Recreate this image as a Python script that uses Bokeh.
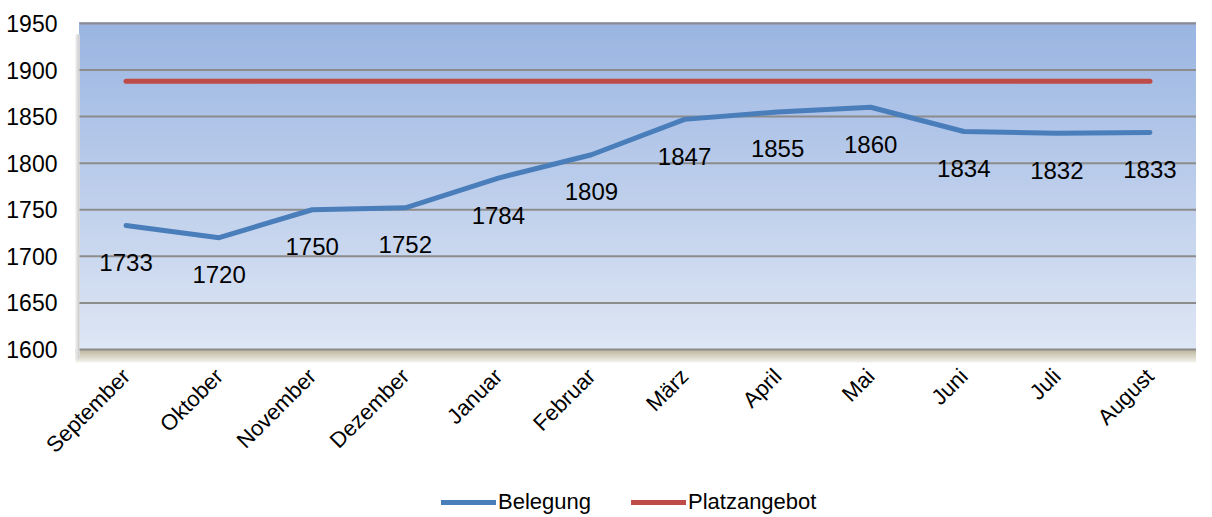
import math
from bokeh.plotting import figure
from bokeh.models import (Range1d, ColumnDataSource, LabelSet, Legend,
                          LegendItem, BoxAnnotation, FixedTicker)
from bokeh.core.properties import value
from bokeh.embed import file_html
from bokeh.resources import INLINE

months = ["September", "Oktober", "November", "Dezember", "Januar", "Februar",
          "März", "April", "Mai", "Juni", "Juli", "August"]
belegung = [1733, 1720, 1750, 1752, 1784, 1809, 1847, 1855, 1860, 1834, 1832, 1833]
platzangebot = [1888] * 12
y_ticks = [1600, 1650, 1700, 1750, 1800, 1850, 1900, 1950]

FONT = "Liberation Sans"

# category slots: month i sits in the centre of slot [i, i+1]
xpos = [i + 0.5 for i in range(len(months))]
N = len(months)

FRAME_W = 1196
WALL_LEFT_PX = 79
SLOT_PX = (FRAME_W - WALL_LEFT_PX) / N
X_LO = -WALL_LEFT_PX / SLOT_PX

PX_PER_UNIT = 340 / 365
TOP_PX = 22
FRAME_H = 515
WALL_TOP = 1951
Y_TOP = WALL_TOP + TOP_PX / PX_PER_UNIT
Y_LO = Y_TOP - FRAME_H / PX_PER_UNIT

p = figure(frame_width=FRAME_W, frame_height=FRAME_H,
           x_range=Range1d(X_LO, N), y_range=Range1d(Y_LO, Y_TOP),
           output_backend="svg", toolbar_location=None,
           min_border_left=0, min_border_top=0, min_border_right=0,
           min_border_bottom=0)
p.outline_line_color = None
p.background_fill_color = "white"

# gradient background of the plot wall (stacked boxes, each reaching the top)
top_c = (154, 181, 226)
bot_c = (222, 230, 244)
n = 60
lo, hi = 1600, WALL_TOP
for i in range(n):
    y0 = lo + (hi - lo) * i / n
    t = (i + 0.5) / n
    c = tuple(int(round(bot_c[k] + (top_c[k] - bot_c[k]) * t)) for k in range(3))
    p.add_layout(BoxAnnotation(left=0, bottom=y0, top=hi, fill_color="#%02x%02x%02x" % c,
                               fill_alpha=1, line_color=None, level="underlay"))
# floor shadow (stacked boxes, each reaching up to 1600)
s_top = (186, 179, 154)
s_bot = (244, 243, 238)
m = 14
for i in range(m):
    y0 = 1600 - 14 * (m - i) / m
    t = (m - i - 0.5) / m
    c = tuple(int(round(s_top[k] + (s_bot[k] - s_top[k]) * t)) for k in range(3))
    p.add_layout(BoxAnnotation(left=-0.04, bottom=y0, top=1600,
                               fill_color="#%02x%02x%02x" % c,
                               fill_alpha=1, line_color=None, level="underlay"))
# soft shadow on the left side of the wall
for j, col in enumerate(["#eeeeee", "#e0e0e0", "#d2d2d2"]):
    p.add_layout(BoxAnnotation(left=-0.045 + j * 0.013, right=0, bottom=1590, top=1938,
                               fill_color=col, fill_alpha=1, line_color=None,
                               level="underlay"))

# horizontal grid lines across the wall
gsrc = ColumnDataSource(dict(y=y_ticks, x0=[0] * len(y_ticks), x1=[N] * len(y_ticks)))
p.segment(x0="x0", x1="x1", y0="y", y1="y", source=gsrc,
          line_color="#8C8C8C", line_width=2)

src = ColumnDataSource(dict(x=xpos, bel=belegung, plz=platzangebot,
                            lab=[str(v) for v in belegung]))

r1 = p.line("x", "bel", source=src, line_color="#4A7EBB", line_width=5,
            line_cap="round", line_join="round")
r2 = p.line("x", "plz", source=src, line_color="#BE4B48", line_width=5,
            line_cap="round", line_join="round")

labels = LabelSet(x="x", y="bel", text="lab", source=src, y_offset=-37,
                  text_align="center", text_baseline="middle",
                  text_font=value(FONT), text_font_size=value("24px"),
                  text_color="black")
p.add_layout(labels)

p.xgrid.grid_line_color = None
p.ygrid.grid_line_color = None

p.yaxis.fixed_location = 0
p.yaxis.ticker = FixedTicker(ticks=y_ticks)
p.yaxis.axis_line_color = None
p.yaxis.major_tick_line_color = None
p.yaxis.minor_tick_line_color = None
p.yaxis.major_label_text_font = FONT
p.yaxis.major_label_text_font_size = "23px"
p.yaxis.major_label_text_color = "black"
p.yaxis.major_label_standoff = 16

p.xaxis.fixed_location = 1586
p.xaxis.ticker = FixedTicker(ticks=xpos)
p.xaxis.major_label_overrides = {x: mo for x, mo in zip(xpos, months)}
p.xaxis.axis_line_color = None
p.xaxis.major_tick_line_color = None
p.xaxis.minor_tick_line_color = None
p.xaxis.major_tick_out = 0
p.xaxis.major_tick_in = 0
p.xaxis.major_label_text_font = FONT
p.xaxis.major_label_text_font_size = "22px"
p.xaxis.major_label_text_color = "black"
p.xaxis.major_label_orientation = math.pi / 4
p.xaxis.major_label_standoff = 10

legend = Legend(items=[LegendItem(label="Belegung", renderers=[r1]),
                       LegendItem(label="Platzangebot", renderers=[r2])],
                orientation="horizontal", location=(441, 0),
                label_text_font=FONT, label_text_font_size="22px",
                label_text_color="black",
                glyph_width=55, glyph_height=20, spacing=40, label_standoff=2,
                border_line_color=None, background_fill_alpha=0, margin=0, padding=1)
p.add_layout(legend)

open("out.html", "w").write(file_html(p, INLINE))
